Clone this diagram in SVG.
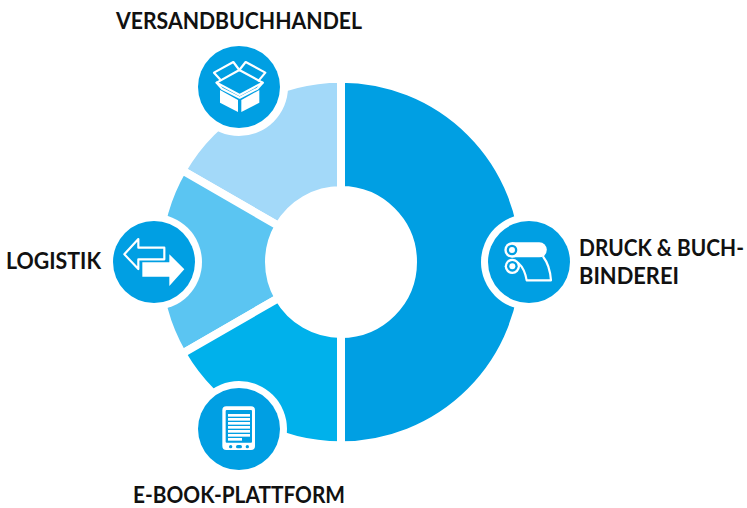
<svg xmlns="http://www.w3.org/2000/svg" width="747" height="508" viewBox="0 0 747 508">
<style>
.seg{stroke:#fff;stroke-width:8;stroke-linejoin:miter}
.halo{fill:#fff}
.disc{fill:#009fe3}
.label{font-family:"Lato","Liberation Sans",sans-serif;font-weight:700;font-size:23px;fill:#111}
.ol{fill:none;stroke:#fff;stroke-width:6.5;stroke-linejoin:round;stroke-linecap:round}
.fw{fill:#fff}
.fb{fill:#009fe3}
</style>
<rect width="747" height="508" fill="#fff"/>
<g id="segments">
<path class="seg" fill="#009fe3" d="M341 78.700A183.300 183.300 0 0 1 341 445.300L341 334A72 72 0 0 0 341 190Z"/>
<path class="seg" fill="#a3d9f9" d="M341 78.700A183.300 183.300 0 0 0 182.260 170.350L278.650 226A72 72 0 0 1 341 190Z"/>
<path class="seg" fill="#5bc5f2" d="M182.260 170.350A183.300 183.300 0 0 0 182.260 353.650L278.650 298A72 72 0 0 1 278.650 226Z"/>
<path class="seg" fill="#00b1eb" d="M182.260 353.650A183.300 183.300 0 0 0 341 445.300L341 334A72 72 0 0 1 278.650 298Z"/>
</g>
<g id="node-versandbuchhandel">
<circle class="halo" cx="239" cy="87" r="49"/>
<circle class="disc" cx="239" cy="87" r="41"/>
<g transform="translate(190 40) scale(.3333)">
<path class="fw" d="M90 150L144 180V216L90 188Z"/>
<path class="fw" d="M208 150L154 180V216L208 188Z"/>
<path class="ol" d="M148 90L218 128L149 165L80 128Z"/>
<path class="ol" d="M148 90L130 66L72 98L92 120"/>
<path class="ol" d="M148 90L167 66L226 98L206 122"/>
<path class="ol" d="M80 128L96 146L149 173L202 146L218 128"/>
</g>
<text class="label" transform="translate(116 29) scale(.85 1)" textLength="289.400" lengthAdjust="spacingAndGlyphs">VERSANDBUCHHANDEL</text>
</g>
<g id="node-logistik">
<circle class="halo" cx="154" cy="262" r="48"/>
<circle class="disc" cx="154" cy="262" r="41"/>
<g transform="translate(105 215) scale(.3333)">
<path class="ol" d="M178 98H100V72L58 118L100 162V133H178Z"/>
<path class="fw" d="M112 142H193V118L238 163L193 213V185H112Z"/>
</g>
<text class="label" transform="translate(6 269) scale(.85 1)" textLength="111.800" lengthAdjust="spacingAndGlyphs">LOGISTIK</text>
</g>
<g id="node-ebook">
<circle class="halo" cx="239" cy="429" r="48"/>
<circle class="disc" cx="239" cy="429" r="41"/>
<g transform="translate(190 385) scale(.3333)">
<rect class="fw" x="97" y="64" width="98" height="131" rx="12"/>
<rect class="fb" x="107" y="75" width="79" height="98" rx="3"/>
<g class="fw">
<rect x="114" y="87" width="66" height="8"/>
<rect x="114" y="99" width="66" height="8"/>
<rect x="114" y="111" width="66" height="8"/>
<rect x="114" y="123" width="66" height="8"/>
<rect x="114" y="135" width="66" height="8"/>
<rect x="114" y="147" width="66" height="8"/>
<rect x="114" y="159" width="42" height="8"/>
</g>
<g class="fb">
<circle cx="122" cy="185" r="5"/>
<rect x="138" y="180" width="18" height="10" rx="5"/>
<circle cx="172" cy="185" r="5"/>
</g>
</g>
<text class="label" transform="translate(133 503) scale(.85 1)" textLength="249.400" lengthAdjust="spacingAndGlyphs">E-BOOK-PLATTFORM</text>
</g>
<g id="node-druck">
<circle class="halo" cx="529" cy="262" r="48"/>
<circle class="disc" cx="529" cy="262" r="41"/>
<g transform="translate(475 215) scale(.3333)">
<path class="ol" d="M205 126C220 145 226 170 228 196H155C152 178 146 158 130 144"/>
<path class="fw" d="M110 82H193A22.500 22.500 0 0 1 193 127H110Z"/>
<circle class="fw" cx="111" cy="105" r="23"/>
<circle class="fb" cx="111" cy="105" r="16"/>
<circle class="fw" cx="111" cy="105" r="9"/>
<circle class="fw" cx="112" cy="154" r="23"/>
<circle class="fb" cx="112" cy="154" r="16"/>
<circle class="fw" cx="112" cy="154" r="9"/>
</g>
<text class="label" transform="translate(579 256) scale(.85 1)" textLength="194.100" lengthAdjust="spacingAndGlyphs">DRUCK &amp; BUCH-</text>
<text class="label" transform="translate(579 284) scale(.85 1)" textLength="117.600" lengthAdjust="spacingAndGlyphs">BINDEREI</text>
</g>
</svg>
